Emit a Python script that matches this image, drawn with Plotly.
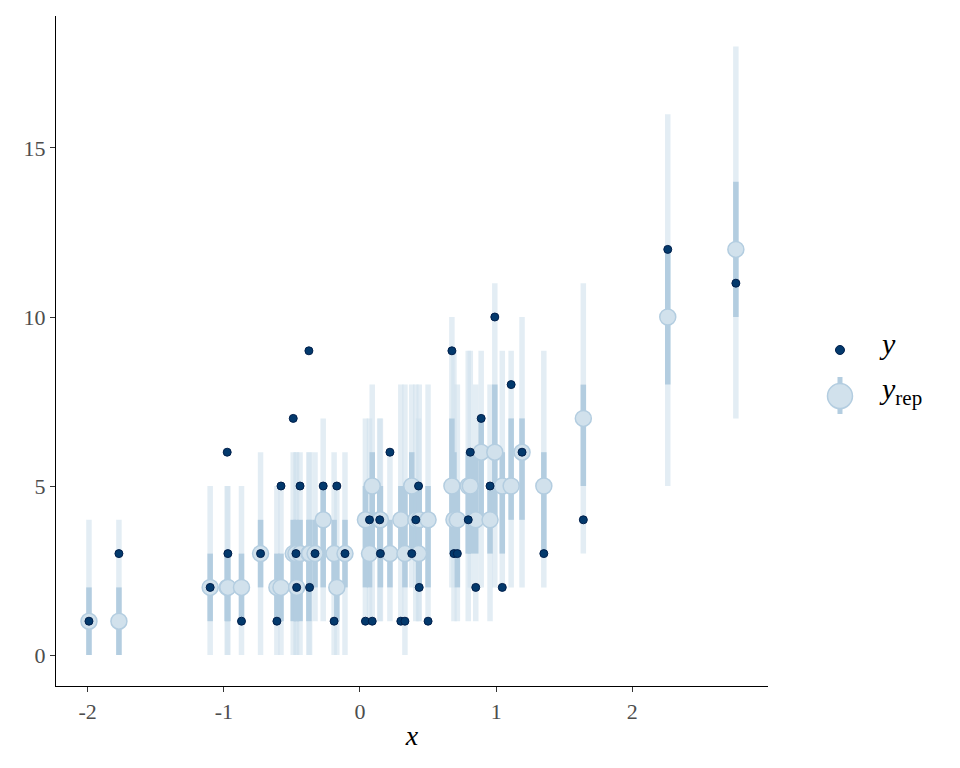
import plotly.graph_objects as go

# ---- data ----
x_vals = [-1.99, -1.77, -1.10, -0.975, -0.97, -0.87, -0.73, -0.61, -0.58, -0.49,
          -0.47, -0.465, -0.44, -0.375, -0.37, -0.33, -0.27, -0.19, -0.17, -0.11,
          0.04, 0.07, 0.09, 0.145, 0.15, 0.22, 0.30, 0.33, 0.38, 0.41,
          0.43, 0.435, 0.50, 0.675, 0.69, 0.715, 0.795, 0.81, 0.85, 0.89,
          0.955, 0.99, 1.045, 1.11, 1.19, 1.35, 1.64, 2.26, 2.76]
y_obs = [1, 3, 2, 6, 3, 1, 3, 1, 5, 7,
         3, 2, 5, 9, 2, 3, 5, 1, 5, 3,
         1, 4, 1, 4, 3, 6, 1, 1, 3, 4,
         5, 2, 1, 9, 3, 3, 4, 6, 2, 7,
         5, 10, 2, 8, 6, 3, 4, 12, 11]
yrep_median = [1, 1, 2, 2, 2, 2, 3, 2, 2, 3,
               3, 2, 3, 3, 3, 3, 4, 3, 2, 3,
               4, 3, 5, 4, 4, 3, 4, 3, 5, 4,
               3, 4, 4, 5, 4, 4, 5, 5, 4, 6,
               4, 6, 5, 5, 6, 5, 7, 10, 12]
lo90 = [0, 0, 0, 0, 0, 0, 0, 0, 0, 0,
        0, 0, 0, 0, 0, 1, 1, 0, 0, 0,
        1, 1, 1, 1, 1, 1, 1, 0, 2, 1,
        1, 1, 1, 2, 1, 1, 1, 2, 1, 2,
        1, 2, 2, 2, 2, 2, 3, 5, 7]
lo50 = [0, 0, 1, 1, 1, 1, 2, 1, 1, 1,
        1, 1, 1, 1, 2, 2, 2, 2, 1, 2,
        2, 2, 3, 3, 2, 2, 3, 2, 3, 3,
        2, 2, 2, 3, 3, 2, 3, 3, 3, 4,
        3, 4, 3, 4, 4, 3, 5, 8, 10]
hi50 = [2, 2, 3, 3, 3, 3, 4, 3, 3, 4,
        4, 3, 4, 4, 4, 4, 5, 4, 3, 4,
        5, 4, 6, 5, 5, 4, 5, 5, 6, 5,
        4, 5, 5, 7, 6, 5, 6, 6, 6, 7,
        5, 8, 6, 7, 7, 6, 8, 12, 14]
hi90 = [4, 4, 5, 5, 5, 5, 6, 5, 5, 6,
        6, 6, 6, 6, 6, 6, 7, 6, 5, 6,
        7, 7, 8, 7, 7, 6, 8, 8, 8, 8,
        7, 8, 8, 10, 9, 8, 9, 9, 8, 9,
        8, 11, 9, 9, 10, 9, 11, 16, 18]

x_ticks = [-2, -1, 0, 1, 2]
y_ticks = [0, 5, 10, 15]

# ---- colours (bayesplot "blue" scheme) ----
c_light = "#d1e1ec"
c_light_hl = "#b3cde0"
c_dark = "#03396c"
c_dark_hl = "#011f4b"


def seg(xs, lows, highs):
    X, Y = [], []
    for xv, lo, hi in zip(xs, lows, highs):
        X += [xv, xv, None]
        Y += [lo, hi, None]
    return X, Y


fig = go.Figure()

ox, oy = seg(x_vals, lo90, hi90)
fig.add_trace(go.Scatter(x=ox, y=oy, mode="lines", showlegend=False, hoverinfo="skip",
                         line=dict(color="rgba(209,225,236,0.6)", width=5.5)))
ix, iy = seg(x_vals, lo50, hi50)
fig.add_trace(go.Scatter(x=ix, y=iy, mode="lines", showlegend=False, hoverinfo="skip",
                         line=dict(color=c_light_hl, width=5.5)))
fig.add_trace(go.Scatter(x=x_vals, y=yrep_median, mode="markers", showlegend=False,
                         marker=dict(size=16, color=c_light,
                                     line=dict(color=c_light_hl, width=1.5))))
fig.add_trace(go.Scatter(x=x_vals, y=y_obs, mode="markers", showlegend=False,
                         marker=dict(size=8, color=c_dark,
                                     line=dict(color=c_dark_hl, width=1))))

font_family = "Liberation Serif, DejaVu Serif, serif"

axis_common = dict(showgrid=False, zeroline=False, showline=True, linecolor="black",
                   linewidth=1.3, ticks="outside", ticklen=5, tickcolor="#333333",
                   tickwidth=1.1, mirror=False, automargin=False,
                   tickfont=dict(family=font_family, size=22, color="#4d4d4d"))

fig.update_xaxes(range=[-2.232, 2.996], tickvals=x_ticks,
                 ticktext=[str(v) for v in x_ticks],
                 title=dict(text="<i>x</i>", font=dict(family=font_family, size=28, color="black"),
                            standoff=2),
                 **axis_common)
fig.update_yaxes(range=[-0.917, 18.905], tickvals=y_ticks,
                 ticktext=[str(v) for v in y_ticks], **axis_common)

# ---- manual legend ----
shapes = [
    dict(type="line", xref="paper", yref="paper", x0=1.1011, x1=1.1011, y0=0.4060, y1=0.4612,
         line=dict(color=c_light_hl, width=5)),
    dict(type="circle", xref="paper", yref="paper", xsizemode="pixel", ysizemode="pixel",
         xanchor=1.1011, yanchor=0.4328, x0=-12.5, x1=12.5, y0=-12.5, y1=12.5,
         fillcolor=c_light, line=dict(color=c_light_hl, width=1.5)),
    dict(type="circle", xref="paper", yref="paper", xsizemode="pixel", ysizemode="pixel",
         xanchor=1.1011, yanchor=0.5015, x0=-4.5, x1=4.5, y0=-4.5, y1=4.5,
         fillcolor=c_dark, line=dict(color=c_dark_hl, width=1)),
]
annotations = [
    dict(xref="paper", yref="paper", x=1.153, y=0.5105, xanchor="left", yanchor="middle",
         text="<i>y</i>", showarrow=False, font=dict(family=font_family, size=30, color="black")),
    dict(xref="paper", yref="paper", x=1.153, y=0.4405, xanchor="left", yanchor="middle",
         text="<i>y</i><sub>rep</sub>", showarrow=False,
         font=dict(family=font_family, size=30, color="black")),
]

# page body has an 8px margin, so offset the figure margins accordingly
fig.update_layout(width=960, height=768, plot_bgcolor="white", paper_bgcolor="white",
                  margin=dict(l=48, r=200, t=8, b=90, pad=0),
                  shapes=shapes, annotations=annotations, showlegend=False)

fig.write_html("out.html")
